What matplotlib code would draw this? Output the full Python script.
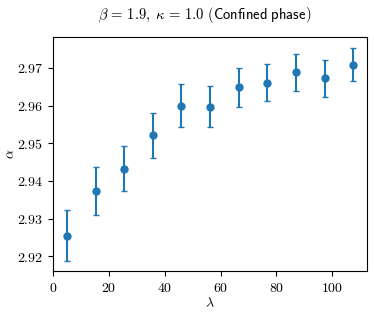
import numpy as np
import matplotlib
matplotlib.use('Agg')
import matplotlib.pyplot as plt
from matplotlib.ticker import FuncFormatter

plt.rcParams['mathtext.fontset'] = 'cm'
plt.rcParams['font.size'] = 10

# data
lam = [5.0, 15.25, 25.5, 35.75, 46.0, 56.25, 66.5, 76.75, 87.0, 97.25, 107.5]
alpha = [2.9255, 2.9374, 2.9433, 2.9521, 2.9600, 2.9597, 2.9649, 2.9661, 2.9688, 2.9672, 2.9709]
alpha_err = [0.0067, 0.0064, 0.0061, 0.0060, 0.0056, 0.0054, 0.0052, 0.0050, 0.0049, 0.0048, 0.0045]

fig = plt.figure(figsize=(3.74, 3.13), dpi=100)
ax = fig.add_axes([0.1417, 0.1342, 0.8388, 0.7476])

ax.errorbar(lam, alpha, yerr=alpha_err, fmt='o', color='C0',
            ms=5, capsize=2.5, elinewidth=1.5, capthick=1.0)

ax.set_xlim(0, 112.3)
ax.set_ylim(2.9161, 2.9782)
ax.set_xticks([0, 20, 40, 60, 80, 100])
ax.set_yticks([2.92, 2.93, 2.94, 2.95, 2.96, 2.97])
ax.xaxis.set_major_formatter(FuncFormatter(lambda v, p: f'${v:g}$'))
ax.yaxis.set_major_formatter(FuncFormatter(lambda v, p: f'${v:.2f}$'))

ax.set_xlabel(r'$\lambda$', labelpad=1)
ax.set_ylabel(r'$\alpha$')
ax.yaxis.set_label_coords(-0.115, 0.5)
fig.suptitle(r'$\beta\,=\,1.9,\:\kappa\,=\,1.0$ $\mathsf{(Confined\ phase)}$',
             x=0.548, y=0.985, fontsize=10.5)

fig.savefig('out.png', dpi=100)
